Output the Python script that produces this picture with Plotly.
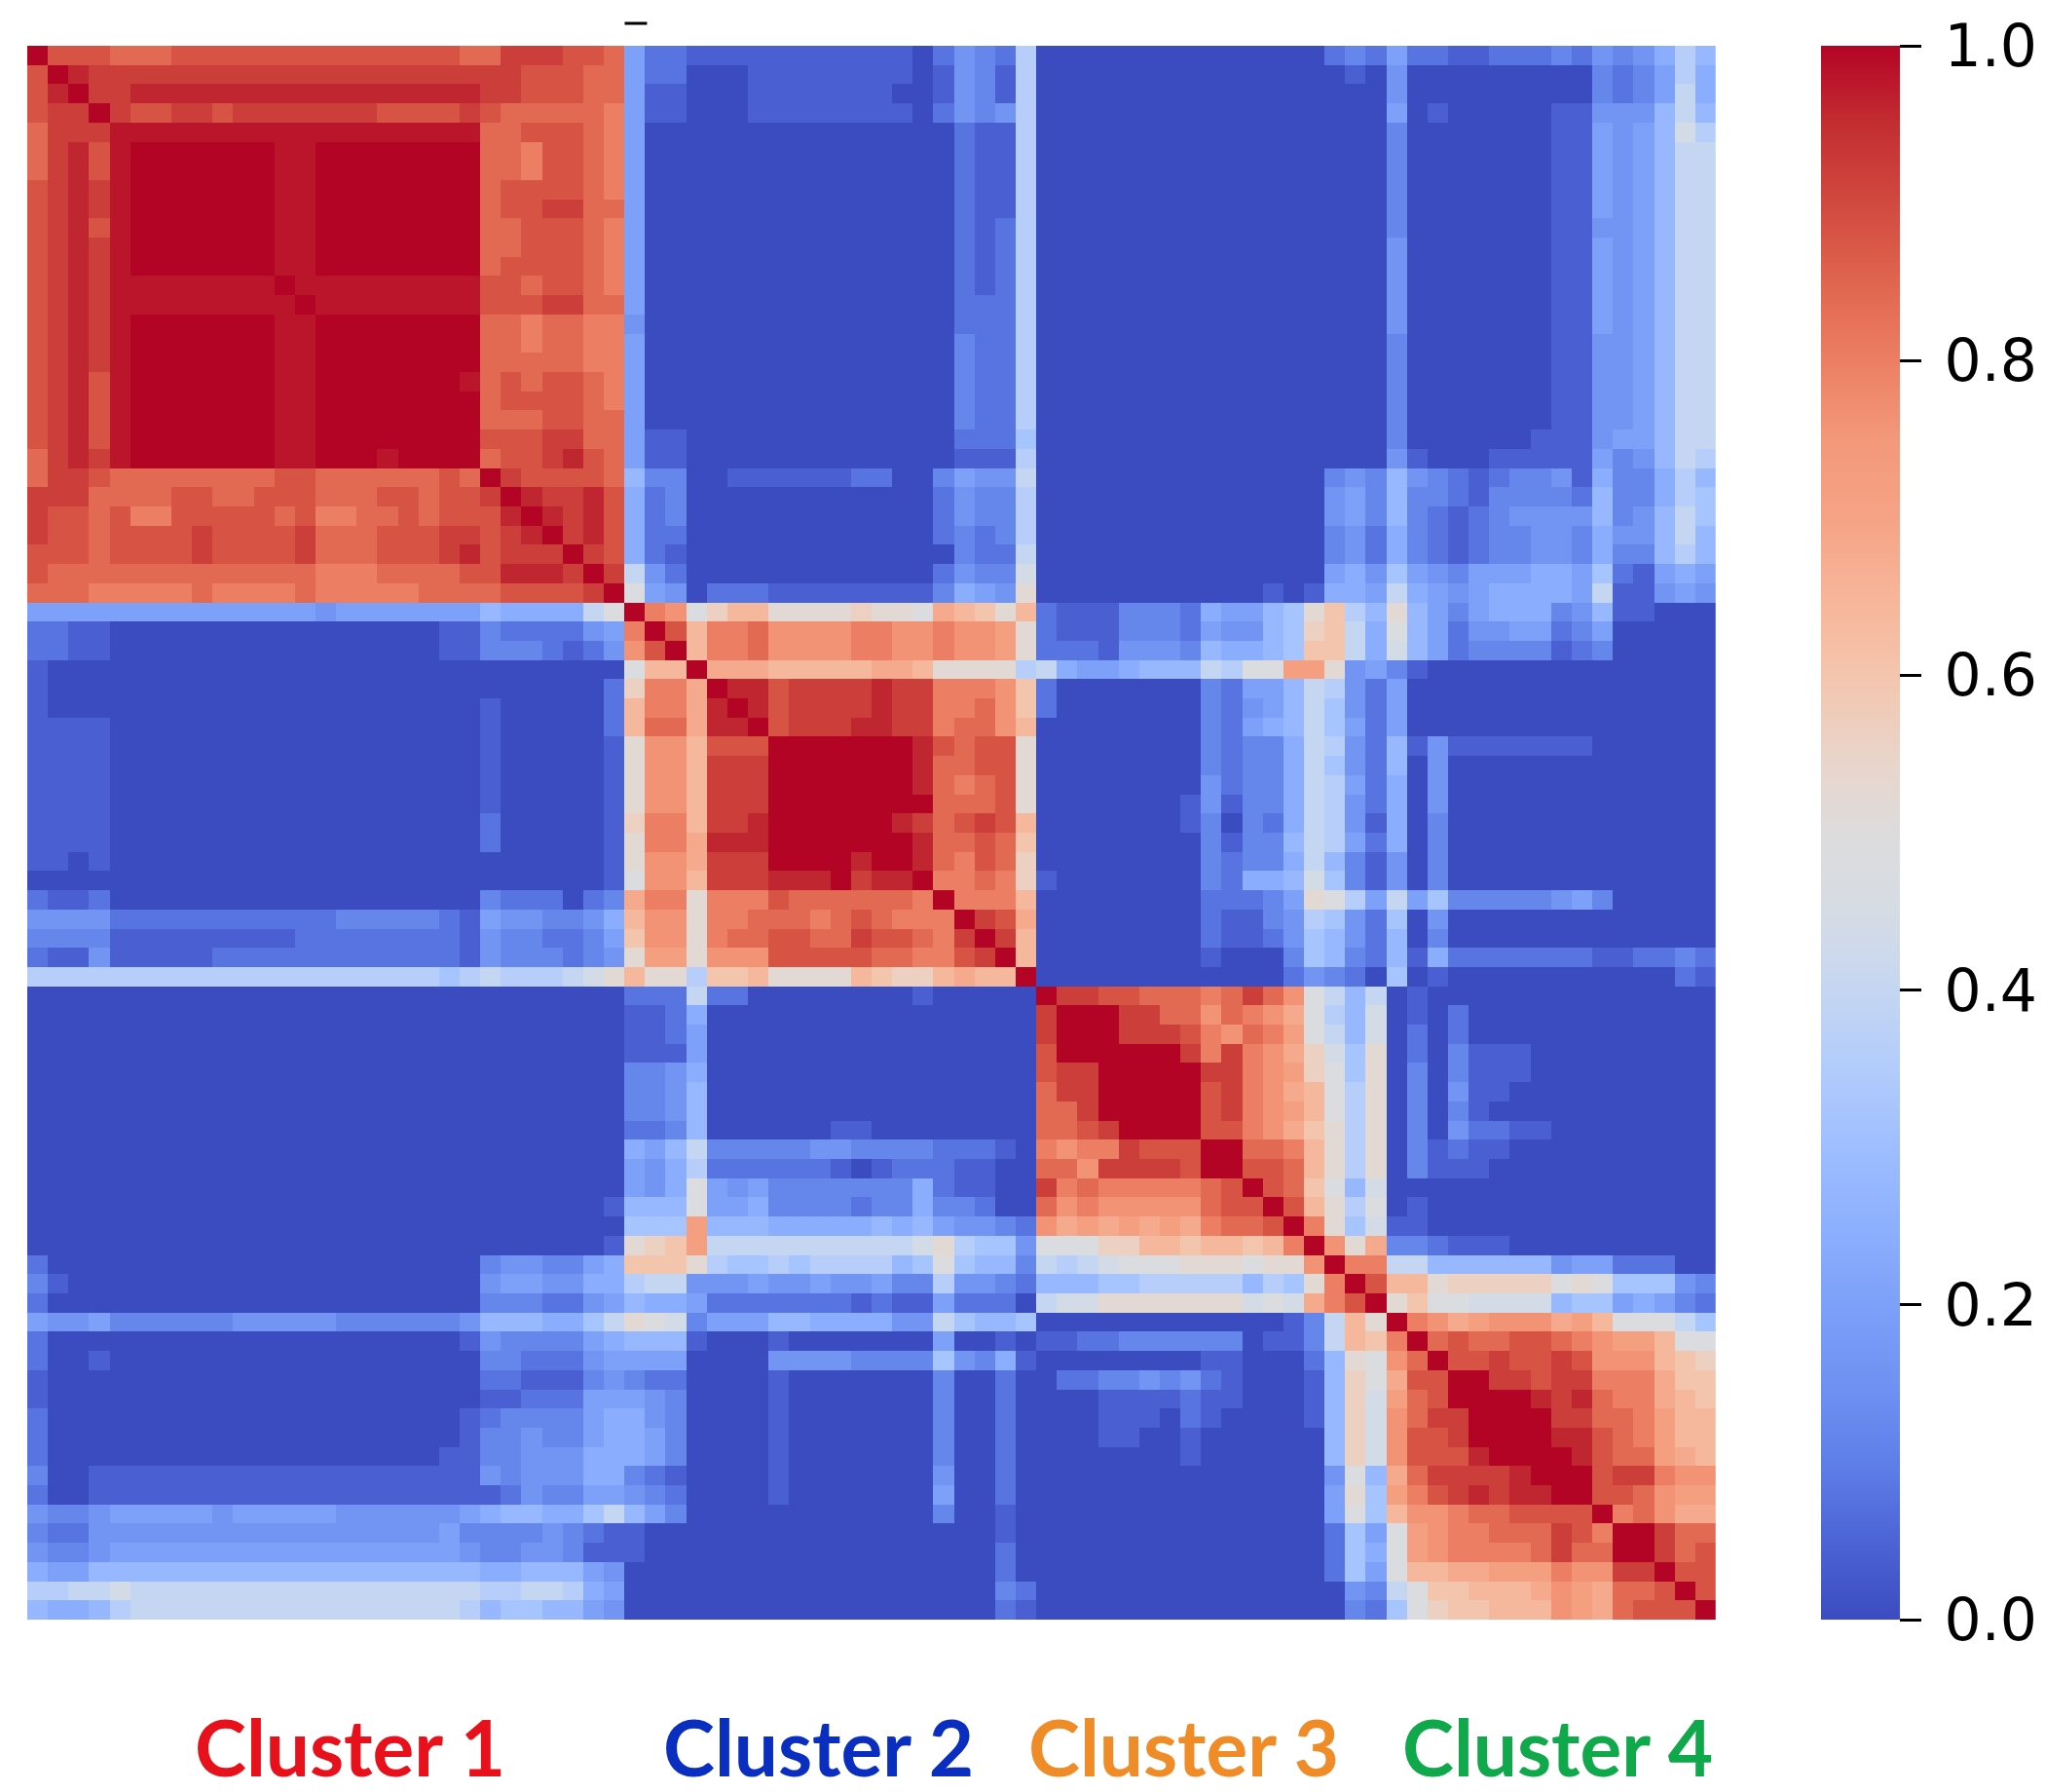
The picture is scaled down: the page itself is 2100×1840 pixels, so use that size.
import numpy as np
import plotly.graph_objects as go

# cell values are written as letters: a = 0.00, b = 0.04 ... z = 1.00, Y = 0.98
# only the upper triangle is listed, the matrix is symmetric
LETTERS = "abcdefghijklmnopqrstuvwxyz"

cluster_sizes = [29, 20, 17, 16]
cluster_names = ["Cluster 1", "Cluster 2", "Cluster 3", "Cluster 4"]
tick_values = [0.0, 0.2, 0.4, 0.6, 0.8, 1.0]
tick_labels = ["0.0", "0.2", "0.4", "0.6", "0.8", "1.0"]

c1_c1 = [
    "zwwwv vvwww wwwww wwwww wvvxx xwwv",
    "zyxxx xxxxx xxxxx xxxxx xxxww wvv",
    "zxxyy yyyyy yyyyy yyyyy xxwww vv",
    "zxwwx xwxxx xxxxw wwwxw vvvvv u",
    "YYYYY YYYYY YYYYY YYY vvwww vu",
    "zzzzz zzYYz zzzzz zz vvuww vu",
    "zzzzz zYYzz zzzzz z vvuww vu",
    "zzzzz YYzzz zzzzz vwwww vu",
    "zzzzY Yzzzz zzzz vwwxx vv",
    "zzzYY zzzzz zzz vvwww vu",
    "zzYYz zzzzz zz vvwww vu",
    "zYYzz zzzzz z vwwww vu",
    "zYYYY YYYYY wwvww vu",
    "zYYYY YYYY wwwxx vv",
    "zzzzz zzz vvuvv uu",
    "zzzzz zz vvuvv uu",
    "zzzzz z vvvvv uu",
    "zzzzY vwvww vu",
    "zzzz vwwww vu",
    "zzz vvvww vv",
    "zz wwwxx vv",
    "z vwwxy wv",
    "zxwww wv",
    "zyxxyw",
    "zyxyw",
    "zxyw",
    "zxw",
    "zx",
    "z",
]

c1_c2 = [
    "fccbb bbbbb bbbba cedcj",
    "fccaa abbbb bbbba bedbj",
    "fbbaa abbbb bbbaa bedbj",
    "fbbaa abbbb bbbba cedej",
    "faaaa aaaaa aaaaa acbbj",
    "faaaa aaaaa aaaaa acbbj",
    "faaaa aaaaa aaaaa acbbj",
    "faaaa aaaaa aaaaa acbbj",
    "faaaa aaaaa aaaaa acbbj",
    "faaaa aaaaa aaaaa acbcj",
    "faaaa aaaaa aaaaa acbcj",
    "faaaa aaaaa aaaaa acbcj",
    "faaaa aaaaa aaaaa acbcj",
    "faaaa aaaaa aaaaa acccj",
    "eaaaa aaaaa aaaaa acccj",
    "faaaa aaaaa aaaaa adccj",
    "faaaa aaaaa aaaaa adccj",
    "faaaa aaaaa aaaaa adccj",
    "faaaa aaaaa aaaaa adccj",
    "faaaa aaaaa aaaaa adccj",
    "fbbaa aaaaa aaaaa accci",
    "fbbaa aaaaa aaaaa abbbj",
    "hddaa bbbbb bccaa dfeek",
    "gcdaa aaaaa aaaaa ceddj",
    "gcdaa aaaaa aaaaa ceddj",
    "gccaa aaaaa aaaaa cdcdj",
    "gcbaa aaaaa aaaaa adcck",
    "kecaa aaaaa aaaaa ceddl",
    "mfeac ccbbb bbbbb dgfen",
]

c1_c3 = [
    "aaaaa aaaaa aaaac dc",
    "aaaaa aaaaa aaaaa ba",
] + ["aaaaa aaaaa aaaaa aa"] * 20 + [
    "aaaaa aaaaa aaaad ed",
    "aaaaa aaaaa aaaae fd",
    "aaaaa aaaaa aaaae fd",
    "aaaaa aaaaa aaaad ec",
    "aaaaa aaaaa aaaad ec",
    "aaaaa aaaaa aaaaf ge",
    "aaaaa aaaaa ababg gf",
]

c1_c4 = [
    "fccbb cccdc edegj h",
    "eaaaa aaaaa dcdfj g",
    "eaaaa aaaaa dcdfk g",
    "fabaa aaabb eeehk h",
    "daaaa aaabb fefhl j",
    "daaaa aaabb fefhk k",
    "daaaa aaabb fefhk k",
    "daaaa aaabb fefhk k",
    "daaaa aaabb fefhk k",
    "daaaa aaabb eefhk k",
    "eaaaa aaabb fefhk k",
    "eaaaa aaabb fefhk k",
    "eaaaa aaabb fefhk k",
    "eaaaa aaabb fefhk k",
    "eaaaa aaabb fefhk k",
    "daaaa aaabb eefhk k",
    "daaaa aaabb eefhk k",
    "daaaa aaabb eefhk k",
    "daaaa aaabb eefhk k",
    "daaaa aaabb eefhk k",
    "daaaa aabbb effhk k",
    "ebaaa bbbbb fdehk j",
    "hedcb cddeb gddgj h",
    "hddcb ddddc hddgj i",
    "hdcbc deeee hdehk i",
    "gdcbc ddeed geehk h",
    "gdcbc ddeed gddhj h",
    "ifedf ffggf icbfg f",
    "kgfef ggggf kbbef e",
]

c2_c2 = [
    "zutmo qqnnn nonnm rqpnq",
    "zwquu vtttt uuttu ttsn",
    "zquuv ttttu uttut tsn",
    "zrrrq qqqqr rqnnn nj",
    "zyywx xxxyx xuuut p",
    "zywxx xxyxx uuvtp",
    "zwxxx yyxxu vvtq",
    "zzzzz zzywv wwn",
    "zzzzz zyvvw wn",
    "zzzzz yvuvw n",
    "zzzzz vvvwn",
    "zzyxv wxwq",
    "zzyvv wvp",
    "zyvuwvo",
    "zuuvuo",
    "zuuuq",
    "zxwr",
    "zxq",
    "zq",
    "z",
]

c2_c3 = [
    "cbbbd ddcgf fhinp jh",
    "cbbbd ddcfe ehiop kg",
    "cccbe eedhg ghipp kg",
    "kgffg hhhkj mmssn ef",
    "caaaa aaadc ffhkj ec",
    "caaaa aaadc efhki ec",
    "aaaaa aaadc fghki fc",
    "aaaaa aaadc ddgkj ec",
    "aaaaa aaadc ddgki ec",
    "aaaaa aaaec ddgkj fc",
    "aaaaa aabeb ddgkj ec",
    "aaaaa aabda dcgkj eb",
    "aaaaa aaadb ddhkj fc",
    "aaaaa aaadc ddgkh db",
    "baaaa aaadc gghli db",
    "aaaaa aaacc cdfnm jf",
    "aaaaa aaacb bdeji ec",
    "aaaaa aaacb bceih ec",
    "aaaaa aaaba aadih dc",
    "aaaaa aaaaa aaced ca",
]

c2_c4 = [
    "nhfdf gggde hbbaa a",
    "mhfce effcd faaaa a",
    "lhfcd dddbc daaaa a",
    "dbaaa aaaaa aaaaa a",
    "faaaa aaaaa aaaaa a",
    "faaaa aaaaa aaaaa a",
    "faaaa aaaaa aaaaa a",
    "hbebb bbbbb aaaaa a",
    "haeaa aaaaa aaaaa a",
    "gaeaa aaaaa aaaaa a",
    "gaeaa aaaaa aaaaa a",
    "gadaa aaaaa aaaaa a",
    "gadaa aaaaa aaaaa a",
    "eadaa aaaaa aaaaa a",
    "eadaa aaaaa aaaaa a",
    "kfidd dddef daaaa a",
    "iaeaa aaaaa aaaaa a",
    "hadaa aaaaa aaaaa a",
    "hbgcc ccccc bbccd c",
    "iabaa aaaaa aaaac b",
]

c3_c3 = [
    "zxxww vvvuv xvtmk hk",
    "zzzxx vvtvu trmjh l",
    "zzxxx wutvu smkhl",
    "zzzzx uxutr olin",
    "zzzzx xutso min",
    "zzzwx utrqm jn",
    "zzwxu tsqmj n",
    "zwwut rpnjn",
    "zzvvu qnjn",
    "zwwvq njn",
    "zwvpmhl",
    "zwqnjm",
    "zunil",
    "ztnr",
    "zuu",
    "zw",
    "z",
]

c3_c4 = [
    "abaaa aaaaa aaaaa a",
    "abaca aaaaa aaaaa a",
    "acaca aaaaa aaaaa a",
    "acadb bbaaa aaaaa a",
    "adadb bbaaa aaaaa a",
    "adaeb baaaa aaaaa a",
    "adadb aaaaa aaaaa a",
    "adaec cbbaa aaaaa a",
    "adbcb baaaa aaaaa a",
    "adbbb aaaaa aaaaa a",
    "aaaaa aaaaa aaaaa a",
    "abaaa aaaaa aaaaa a",
    "bbaaa aaaaa aaaaa a",
    "ddcbb baaaa aaaaa a",
    "kkhhh hhhef fccca a",
    "qqnoo ooomn miiie d",
    "npmml lllhi ifgfd c",
]

c4_c4 = [
    "zutrs tttrs qmmmk i",
    "zvwvv wwvut ssqmm",
    "zwwxw wxwtt tqpo",
    "zzxxw xxuuu rpp",
    "zzzyx yvuur qp",
    "zzzxx vvusq q",
    "zzyyw vusqq",
    "zzywv vsrq",
    "zzwxx utt",
    "zwwvtss",
    "zuvtrr",
    "zzxvv",
    "zxvw",
    "zww",
    "zw",
    "z",
]

within = [c1_c1, c2_c2, c3_c3, c4_c4]
between = {(0, 1): c1_c2, (0, 2): c1_c3, (0, 3): c1_c4,
           (1, 2): c2_c3, (1, 3): c2_c4, (2, 3): c3_c4}

# matplotlib coolwarm sampled by eye
coolwarm = [
    [0.00, "#3b4cc0"], [0.05, "#4c64d6"], [0.10, "#5f7fe8"], [0.15, "#6f92f3"],
    [0.20, "#7da0f9"], [0.25, "#8db0fe"], [0.30, "#9ebeff"], [0.35, "#b2ccfb"],
    [0.40, "#c5d6f2"], [0.45, "#d6dce4"], [0.50, "#dddcdc"], [0.55, "#ead4c8"],
    [0.60, "#f4c5ad"], [0.65, "#f7b599"], [0.70, "#f6a385"], [0.75, "#f4987a"],
    [0.80, "#ec7f63"], [0.85, "#e0654f"], [0.90, "#d1493f"], [0.95, "#c32e31"],
    [1.00, "#b40426"],
]


def decode(text):
    return [0.98 if ch == "Y" else LETTERS.index(ch) / 25 for ch in text.replace(" ", "")]


n = sum(cluster_sizes)
starts = np.cumsum([0] + cluster_sizes)
matrix = np.zeros((n, n))

for c, rows in enumerate(within):
    for r, row in enumerate(rows):
        vals = decode(row)
        assert len(vals) == cluster_sizes[c] - r, (c, r, len(vals))
        i = starts[c] + r
        matrix[i, i:i + len(vals)] = vals

for (a, b), rows in between.items():
    assert len(rows) == cluster_sizes[a], (a, b, len(rows))
    for r, row in enumerate(rows):
        vals = decode(row)
        assert len(vals) == cluster_sizes[b], (a, b, r, len(vals))
        matrix[starts[a] + r, starts[b]:starts[b] + len(vals)] = vals

matrix = np.triu(matrix) + np.triu(matrix, 1).T

# the page body keeps its default 8px margin, so the figure is drawn 8px in
W, H = 2084, 1832


def fx(px):
    return (px - 8) / W


def fy(px):
    return 1 - (px - 8) / H


fig = go.Figure(go.Heatmap(
    z=matrix,
    zmin=0,
    zmax=1,
    colorscale=coolwarm,
    colorbar=dict(
        x=fx(1874), xanchor="left", xpad=0,
        y=fy(1663), yanchor="bottom", ypad=0,
        len=1616 / H, thickness=81,
        outlinewidth=0,
        ticks="outside", ticklen=22, tickwidth=3, tickcolor="black",
        tickvals=tick_values,
        ticktext=["\u2009" + t for t in tick_labels],
        tickfont=dict(family="DejaVu Sans", size=60, color="black"),
    ),
))

fig.update_xaxes(domain=[fx(28), fx(1766)], visible=False)
fig.update_yaxes(domain=[fy(1663), fy(47)], visible=False, autorange="reversed")

# stray dash above the map
fig.add_shape(type="line", xref="paper", yref="paper", x0=fx(643), x1=fx(666),
              y0=fy(24), y1=fy(24), line=dict(color="black", width=3))

label_x = [360, 843, 1218, 1603]
label_colors = ["#e8101a", "#0a2fc0", "#f08c28", "#0fa84b"]
for name, px, color in zip(cluster_names, label_x, label_colors):
    fig.add_annotation(
        text=f"<b>{name}</b>", x=fx(px), y=fy(1793), xref="paper", yref="paper",
        xanchor="center", yanchor="middle",
        showarrow=False, font=dict(family="Lato", size=80, color=color),
    )

fig.update_layout(
    width=W, height=H, autosize=False,
    margin=dict(l=0, r=0, t=0, b=0),
    paper_bgcolor="white", plot_bgcolor="white",
)

fig.write_html("out.html")
